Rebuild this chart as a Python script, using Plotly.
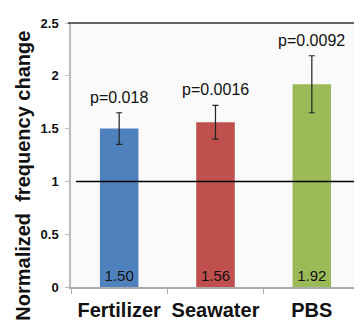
import plotly.graph_objects as go

categories = ["Fertilizer", "Seawater", "PBS"]
values = [1.50, 1.56, 1.92]
errors = [0.15, 0.16, 0.27]
p_labels = ["p=0.018", "p=0.0016", "p=0.0092"]
value_labels = ["1.50", "1.56", "1.92"]
colors = ["#4F81BD", "#C0504D", "#9BBB59"]
y_ticks = [0, 0.5, 1, 1.5, 2, 2.5]
y_tick_labels = ["0", "0.5", "1", "1.5", "2", "2.5"]
y_title = "Normalized  frequency change"

FONT = "Liberation Sans, Arial"

fig = go.Figure()
fig.add_trace(go.Bar(
    x=categories, y=values, width=0.4,
    marker=dict(color=colors, line=dict(width=0)),
    error_y=dict(type="data", array=errors, visible=True, color="#222222", thickness=1.2, width=3),
    text=value_labels, textposition="inside", insidetextanchor="start",
    textfont=dict(family=FONT, size=15, color="#111111"),
    cliponaxis=False,
))

for c, v, e, p in zip(categories, values, errors, p_labels):
    fig.add_annotation(x=c, y=v + e, text=p, showarrow=False, yanchor="bottom", yshift=5,
                       font=dict(family=FONT, size=16, color="#111111"))

# y-axis title as annotation (positioned lower than plot center, as in reference)
fig.add_annotation(xref="paper", yref="paper", x=-0.164, y=0.42, text=y_title,
                   textangle=-90, showarrow=False, xanchor="center", yanchor="middle",
                   font=dict(family=FONT, size=20, color="#111111", weight="bold"))

fig.add_shape(type="line", xref="paper", yref="y", x0=0.017, x1=1, y0=1, y1=1,
              line=dict(color="black", width=1.5))
# frame: top dark, right gray
fig.add_shape(type="line", xref="paper", yref="paper", x0=-0.01, x1=1, y0=1, y1=1,
              line=dict(color="#333333", width=1.5))
fig.add_shape(type="line", xref="paper", yref="paper", x0=1, x1=1, y0=-0.03, y1=1,
              line=dict(color="#888888", width=1.5))

fig.update_layout(
    width=362, height=325,
    margin=dict(l=63, r=10, t=15, b=46, autoexpand=False),
    paper_bgcolor="white", plot_bgcolor="#fafafa",
    showlegend=False, bargap=0.6,
    font=dict(family=FONT, color="#111111"),
)
fig.update_yaxes(range=[0, 2.5], tickvals=y_ticks, ticktext=y_tick_labels, automargin=False,
                 showgrid=False, zeroline=False, showline=True, linecolor="#bbbbbb", linewidth=1.5,
                 ticks="outside", ticklen=4, tickcolor="#bbbbbb", ticklabelstandoff=4,
                 tickfont=dict(size=13, family=FONT, weight="bold"))
fig.update_xaxes(showgrid=False, showline=True, linecolor="#aaaaaa", linewidth=1.5,
                 automargin=False, tickangle=0,
                 ticks="outside", tickson="boundaries", ticklen=5, tickcolor="#aaaaaa",
                 ticklabelstandoff=4,
                 tickfont=dict(size=20, family=FONT, weight="bold"))

fig.write_html("out.html")
